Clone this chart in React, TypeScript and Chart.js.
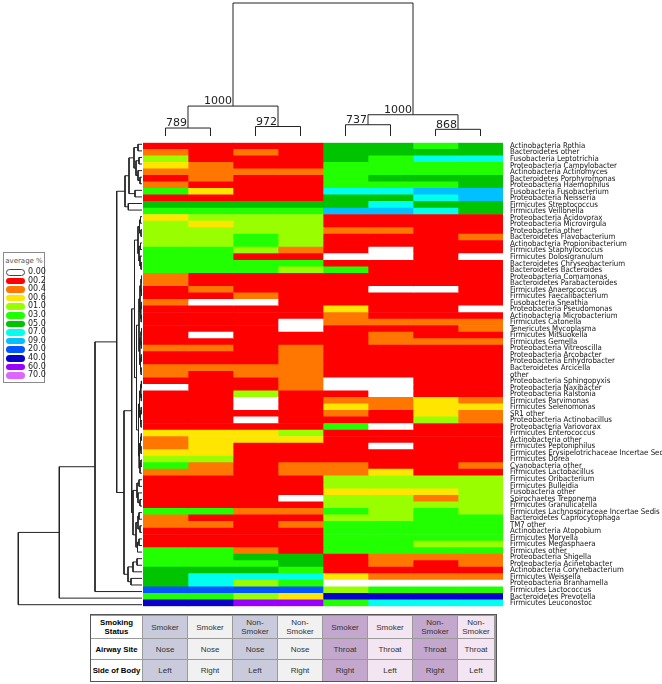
import React, { useEffect, useRef } from 'react';
import { Chart, registerables } from 'chart.js';

Chart.register(...registerables);

// ---------------- DATA ----------------
const taxa = [
  'Actinobacteria Rothia', 'Bacteroidetes other', 'Fusobacteria Leptotrichia', 'Proteobacteria Campylobacter',
  'Actinobacteria Actinomyces', 'Bacteroidetes Porphyromonas', 'Proteobacteria Haemophilus', 'Fusobacteria Fusobacterium',
  'Proteobacteria Neisseria', 'Firmicutes Streptococcus', 'Firmicutes Veillonella', 'Proteobacteria Acidovorax',
  'Proteobacteria Microvirgula', 'Proteobacteria other', 'Bacteroidetes Flavobacterium', 'Actinobacteria Propionibacterium',
  'Firmicutes Staphylococcus', 'Firmicutes Dolosigranulum', 'Bacteroidetes Chryseobacterium', 'Bacteroidetes Bacteroides',
  'Proteobacteria Comamonas', 'Bacteroidetes Parabacteroides', 'Firmicutes Anaerococcus', 'Firmicutes Faecalibacterium',
  'Fusobacteria Sneathia', 'Proteobacteria Pseudomonas', 'Actinobacteria Microbacterium', 'Firmicutes Catonella',
  'Tenericutes Mycoplasma', 'Firmicutes Mitsuokella', 'Firmicutes Gemella', 'Proteobacteria Vitreoscilla',
  'Proteobacteria Arcobacter', 'Proteobacteria Enhydrobacter', 'Bacteroidetes Arcicella', 'other',
  'Proteobacteria Sphingopyxis', 'Proteobacteria Naxibacter', 'Proteobacteria Ralstonia', 'Firmicutes Parvimonas',
  'Firmicutes Selenomonas', 'SR1 other', 'Proteobacteria Actinobacillus', 'Proteobacteria Variovorax',
  'Firmicutes Enterococcus', 'Actinobacteria other', 'Firmicutes Peptoniphilus', 'Firmicutes Erysipelotrichaceae Incertae Sedis',
  'Firmicutes Dorea', 'Cyanobacteria other', 'Firmicutes Lactobacillus', 'Firmicutes Oribacterium',
  'Firmicutes Bulleidia', 'Fusobacteria other', 'Spirochaetes Treponema', 'Firmicutes Granulicatella',
  'Firmicutes Lachnospiraceae Incertae Sedis', 'Bacteroidetes Capnocytophaga', 'TM7 other', 'Actinobacteria Atopobium',
  'Firmicutes Moryella', 'Firmicutes Megasphaera', 'Firmicutes other', 'Proteobacteria Shigella',
  'Proteobacteria Acinetobacter', 'Actinobacteria Corynebacterium', 'Firmicutes Weissella', 'Proteobacteria Branhamella',
  'Firmicutes Lactococcus', 'Bacteroidetes Prevotella', 'Firmicutes Leuconostoc',
];

const sampleGroups = [
  'Smoker Nose Left', 'Smoker Nose Right', 'Non-Smoker Nose Left', 'Non-Smoker Nose Right',
  'Smoker Throat Right', 'Smoker Throat Left', 'Non-Smoker Throat Right', 'Non-Smoker Throat Left',
];
const smokingStatus = ['Smoker', 'Smoker', 'Non-\nSmoker', 'Non-\nSmoker', 'Smoker', 'Smoker', 'Non-\nSmoker', 'Non-\nSmoker'];
const airwaySite = ['Nose', 'Nose', 'Nose', 'Nose', 'Throat', 'Throat', 'Throat', 'Throat'];
const sideOfBody = ['Left', 'Right', 'Left', 'Right', 'Right', 'Left', 'Right', 'Left'];
const tableRowTitles = ['Smoking\nStatus', 'Airway Site', 'Side of Body'];

const legendLevels = [0, 0.2, 0.4, 0.6, 1, 3, 5, 7, 9, 20, 40, 60, 70];
const legendLabels = ['0.00', '00.2', '00.4', '00.6', '01.0', '03.0', '05.0', '07.0', '09.0', '20.0', '40.0', '60.0', '70.0'];
const legendColors = ['#ffffff', '#ff0000', '#ff7700', '#ffe600', '#99ff00', '#22ff00', '#00c400', '#00ffee',
  '#00c0ff', '#0055ff', '#0a00cc', '#9900ff', '#dd66ff'];

// average % per taxon (rows) x sample group (columns)
const abundance: number[][] = [
  [0.2, 0.2, 0.2, 0.2, 5, 5, 3, 5],
  [0.4, 0.2, 0.4, 0.2, 5, 5, 5, 5],
  [1, 0.2, 0.2, 0.2, 5, 3, 7, 7],
  [0.6, 0.4, 0.2, 0.2, 3, 3, 3, 3],
  [0.4, 0.4, 0.4, 0.4, 3, 3, 3, 3],
  [0.2, 0.4, 0.2, 0.2, 3, 5, 5, 5],
  [0.4, 0.2, 0.2, 0.2, 3, 3, 3, 5],
  [3, 0.6, 0.2, 0.2, 7, 7, 9, 9],
  [0.2, 0.2, 0.2, 0.2, 5, 5, 7, 9],
  [5, 5, 5, 5, 5, 7, 5, 5],
  [3, 3, 3, 3, 9, 9, 7, 5],
  [0.6, 1, 1, 1, 0.2, 0.2, 0.2, 0.2],
  [1, 0.6, 1, 1, 0.2, 0.2, 0.2, 0.2],
  [1, 1, 1, 1, 0.4, 0.4, 0.2, 0.2],
  [1, 1, 3, 1, 0.2, 0.2, 0.2, 0.4],
  [1, 1, 3, 1, 0.2, 0.2, 0.2, 0.2],
  [3, 3, 1, 0.4, 0.2, 0, 0.2, 0.2],
  [3, 3, 0.2, 0.2, 0, 0, 0.2, 0],
  [3, 3, 3, 3, 0.2, 0.2, 0.2, 0.2],
  [3, 3, 3, 1, 3, 0.2, 0.2, 0.2],
  [0.4, 0.2, 0.2, 0.2, 0.2, 0.2, 0.2, 0.2],
  [0.4, 0.2, 0.2, 0.2, 0.2, 0.2, 0.2, 0.2],
  [0.2, 0.4, 0.2, 0.2, 0.2, 0, 0, 0.2],
  [0.2, 0.2, 0.4, 0.2, 0.2, 0.2, 0.2, 0.2],
  [0.4, 0, 0, 0.2, 0.2, 0.2, 0.2, 0.2],
  [0.2, 0.2, 0.2, 0.2, 0.6, 0.2, 0.2, 0],
  [0.2, 0.2, 0.2, 0.2, 0.4, 0.2, 0.2, 0.2],
  [0.2, 0.2, 0.2, 0, 0.4, 0.4, 0.4, 0.4],
  [0.2, 0.2, 0.2, 0, 0.2, 0.2, 0.2, 0.4],
  [0.2, 0, 0.2, 0.2, 0.2, 0.4, 0.2, 0.2],
  [0.2, 0.2, 0.2, 0.2, 0.2, 0.4, 0.4, 0.4],
  [0.4, 0.4, 0.2, 0.4, 0.2, 0.2, 0.2, 0.2],
  [0.2, 0.2, 0.2, 0.4, 0.2, 0.2, 0.2, 0.2],
  [0.2, 0.2, 0.2, 0.4, 0.2, 0.2, 0.2, 0.2],
  [0.4, 0.4, 0.4, 0.4, 0.2, 0.2, 0.2, 0.2],
  [0.4, 0.2, 0.4, 0.4, 0.2, 0.2, 0.2, 0.2],
  [0.2, 0.2, 0.2, 0.4, 0, 0, 0.2, 0.2],
  [0, 0.2, 0.2, 0.4, 0, 0, 0.2, 0.2],
  [0.2, 0.2, 1, 0.2, 0.2, 0, 0.2, 0.2],
  [0.2, 0.2, 0, 0.2, 0.4, 0.4, 0.6, 0.4],
  [0.2, 0.2, 0, 0.2, 0.6, 0.4, 0.6, 0.6],
  [0.2, 0.2, 0.2, 0.2, 0.4, 0.2, 0.6, 0.4],
  [0.2, 0.2, 0, 0.2, 0.2, 0.2, 1, 0.4],
  [0.2, 0.2, 0.2, 0.2, 3, 0, 0.2, 0.2],
  [0.6, 0.6, 0.6, 1, 0.2, 0.2, 0.2, 0.2],
  [0.4, 0.6, 0.6, 0.6, 0.2, 0.2, 0.2, 0.2],
  [0.4, 0.6, 0.2, 0.2, 0.2, 0, 0.2, 0.2],
  [0.6, 0.6, 0.2, 0.2, 0.2, 0.2, 0.2, 0.2],
  [1, 1, 0.2, 0.2, 0.2, 0.2, 0.2, 0.2],
  [3, 0.4, 0.2, 0.4, 0.4, 0.2, 0.2, 0.4],
  [0.4, 0.4, 0.2, 0.4, 0.4, 0.6, 0.2, 0.2],
  [0.2, 0.2, 0.2, 0.2, 1, 1, 1, 1],
  [0.2, 0.2, 0.2, 0.2, 1, 1, 1, 1],
  [0.2, 0.2, 0.2, 0.2, 0.6, 0.6, 0.6, 1],
  [0.2, 0.2, 0.2, 0, 1, 1, 0.4, 1],
  [0.2, 0.2, 0.2, 0.2, 1, 1, 1, 1],
  [3, 3, 0.4, 0.4, 3, 1, 3, 1],
  [0.4, 0.2, 0.2, 0.2, 1, 1, 3, 3],
  [0.4, 0.4, 0.2, 0.4, 3, 3, 3, 3],
  [0.2, 0.2, 0.2, 0.2, 3, 3, 3, 3],
  [0.2, 0.2, 0.2, 0.2, 3, 3, 3, 3],
  [0.2, 0.2, 0.2, 0.2, 3, 3, 1, 1],
  [3, 3, 0.4, 0.2, 3, 3, 3, 3],
  [3, 3, 5, 5, 0.2, 0.4, 0.4, 0.4],
  [3, 3, 3, 5, 0.2, 0.4, 0.2, 0.4],
  [5, 5, 5, 3, 0.2, 0.2, 0.2, 0.2],
  [5, 7, 7, 7, 0.6, 0.4, 0.4, 0.4],
  [5, 7, 1, 3, 0, 0, 0, 0],
  [20, 20, 20, 20, 1, 3, 3, 3],
  [3, 3, 1, 0.6, 40, 40, 40, 40],
  [40, 40, 60, 60, 3, 7, 7, 7],
];

// Dendrograms: [mergeHeight, child, child, bootstrapSupport?]; leaves are column / row indices
const columnTree: any = [133.3,
  [30, [8, 0, 1, 789], [9.5, 2, 3, 972], 1000],
  [21.3, [11.3, 4, 5, 737], [6.7, 6, 7, 868], 1000]];

const rowTree: any = [123.7,
  [82.7,
    [47,
      [25.3,
        [17,
          [13, [8, [4, 0, 1], [6, [3, 2, 3], [4, 4, [2, 5, 6]]]], [7, 7, 8]],
          [13.7, 9, 10]],
        [18,
          [10.3,
            [7.5,
              [4, [2.5, [1.5, 11, 12], [1, 13, 14]], [3, [1.5, 15, 16], [2, 17, [1, 18, 19]]]],
              [5.5,
                [3, [2, [1, [0.5, 20, 21], [0.5, 22, 23]], [1.2, [0.6, 24, 25], [0.8, 26, 27]]],
                  [2.2, [1, [0.5, 28, 29], [0.6, 30, 31]], [1.5, [0.7, 32, 33], [0.9, 34, 35]]]],
                [3.5, [2.5, [1.2, [0.6, 36, 37], [0.7, 38, 39]], [1.5, [0.8, 40, 41], [1, 42, 43]]],
                  [2.8, [1.5, [0.7, 44, 45], [1, 46, 47]], [2, [1, 48, 49], 50]]]]],
            [9, [5, [3, 51, 52], [4, 53, [2, 54, 55]]], [6, [4, [3, 56, 57], [2, 58, 59]], [4.5, [3, 60, 61], 62]]]],
          [14, [9, [5, 63, 64], 65], [11, 66, 67]]]],
      68],
    69],
  70];

// ---------------- HELPERS ----------------
function colorFor(v: number) {
  let idx = 0;
  for (let i = 0; i < legendLevels.length; i++) if (v >= legendLevels[i]) idx = i;
  return legendColors[idx];
}

type Seg = [number, number, number, number]; // pos1,h1,pos2,h2
function walkTree(t: any, segs: Seg[], nodes: { pos: number; h: number; s: number }[]): { pos: number; h: number } {
  if (typeof t === 'number') return { pos: t + 0.5, h: 0 };
  const [h, a, b, s] = t;
  const A = walkTree(a, segs, nodes);
  const B = walkTree(b, segs, nodes);
  segs.push([A.pos, A.h, A.pos, h]);
  segs.push([B.pos, B.h, B.pos, h]);
  segs.push([A.pos, h, B.pos, h]);
  const pos = (A.pos + B.pos) / 2;
  if (s) nodes.push({ pos, h, s });
  return { pos, h };
}

function segPoints(segs: Seg[], swap: boolean) {
  const pts: any[] = [];
  segs.forEach(([p1, h1, p2, h2]) => {
    if (swap) {
      pts.push({ x: h1, y: p1 }, { x: h2, y: p2 }, { x: h2, y: null });
    } else {
      pts.push({ x: p1, y: h1 }, { x: p2, y: h2 }, { x: p2, y: null });
    }
  });
  return pts;
}

const labelFont = "'Liberation Sans Narrow', 'DejaVu Sans Condensed', 'Liberation Sans', sans-serif";
const uiFont = "'DejaVu Sans', 'Liberation Sans', sans-serif";
const tableFont = "'Liberation Sans', Arial, sans-serif";

// ---------------- COMPONENT ----------------
export default function App() {
  const heatRef = useRef<HTMLCanvasElement>(null);
  const topRef = useRef<HTMLCanvasElement>(null);
  const leftRef = useRef<HTMLCanvasElement>(null);

  useEffect(() => {
    const charts: Chart[] = [];

    // Heatmap
    charts.push(new Chart(heatRef.current!, {
      type: 'bar',
      data: {
        labels: taxa,
        datasets: sampleGroups.map((g, c) => ({
          label: g,
          data: taxa.map(() => 1),
          backgroundColor: abundance.map((row) => colorFor(row[c])),
          borderWidth: 0,
          barPercentage: 1,
          categoryPercentage: 1,
        })),
      },
      options: {
        indexAxis: 'y',
        responsive: false,
        animation: false,
        devicePixelRatio: 1,
        layout: { padding: { top: 10, bottom: 10, left: 0, right: 0 } },
        plugins: { legend: { display: false }, tooltip: { enabled: false } },
        scales: {
          x: { type: 'linear', stacked: true, min: 0, max: 8, display: false },
          y: {
            type: 'category',
            stacked: true,
            position: 'right',
            offset: true,
            grid: { display: false, drawTicks: false },
            border: { display: false },
            ticks: { autoSkip: false, padding: 7, color: '#111', font: { family: labelFont, size: 7.8 } },
            afterFit: (s: any) => { s.width = 159; },
          },
        },
      } as any,
    }));

    // Column dendrogram
    const cSegs: Seg[] = [];
    const cNodes: { pos: number; h: number; s: number }[] = [];
    walkTree(columnTree, cSegs, cNodes);
    const bootstrapPlugin = {
      id: 'bootstrapLabels',
      afterDatasetsDraw(chart: any) {
        const { ctx, scales } = chart;
        ctx.save();
        ctx.font = `11px ${uiFont}`;
        ctx.fillStyle = '#222';
        ctx.textAlign = 'right';
        ctx.textBaseline = 'bottom';
        cNodes.forEach((n) => {
          ctx.fillText(String(n.s), scales.x.getPixelForValue(n.pos) - 1, scales.y.getPixelForValue(n.h) + 1);
        });
        ctx.restore();
      },
    };
    charts.push(new Chart(topRef.current!, {
      type: 'scatter',
      data: {
        datasets: [{
          data: segPoints(cSegs, false),
          showLine: true,
          borderColor: '#222',
          borderWidth: 1,
          pointRadius: 0,
          spanGaps: false,
          clip: false,
        } as any],
      },
      options: {
        responsive: false,
        animation: false,
        devicePixelRatio: 1,
        layout: { padding: { top: 3, bottom: 0, left: 0, right: 0 } },
        plugins: { legend: { display: false }, tooltip: { enabled: false } },
        scales: {
          x: { type: 'linear', min: 0, max: 8, display: false },
          y: { type: 'linear', min: 0, max: 133.3, display: false },
        },
      } as any,
      plugins: [bootstrapPlugin],
    }));

    // Row dendrogram
    const rSegs: Seg[] = [];
    walkTree(rowTree, rSegs, []);
    charts.push(new Chart(leftRef.current!, {
      type: 'scatter',
      data: {
        datasets: [{
          data: segPoints(rSegs, true),
          showLine: true,
          borderColor: '#222',
          borderWidth: 1,
          pointRadius: 0,
          spanGaps: false,
          clip: false,
        } as any],
      },
      options: {
        responsive: false,
        animation: false,
        devicePixelRatio: 1,
        layout: { padding: { top: 0, bottom: 0, left: 0, right: 1 } },
        plugins: { legend: { display: false }, tooltip: { enabled: false } },
        scales: {
          x: { type: 'linear', reverse: true, min: 0, max: 142, display: false },
          y: { type: 'linear', reverse: true, min: 0, max: 71, display: false },
        },
      } as any,
    }));

    return () => charts.forEach((c) => c.destroy());
  }, []);

  const colLeft = (i: number) => 143 + i * 45;
  const colWidth = (i: number) => (i === 7 ? 36 : 44);
  const cellColors = ['#c9cbdc', '#f1f1f1', '#c9cbdc', '#f1f1f1', '#c4a7cd', '#f3e5f2', '#c4a7cd', '#f3e5f2'];
  const tableRows = [smokingStatus, airwaySite, sideOfBody];
  const rowTop = [616, 639, 660];
  const rowH = [22, 20, 21];

  return (
    <div style={{ position: 'absolute', left: 0, top: 0, width: 662, height: 684, background: '#fff', overflow: 'hidden' }}>
      <canvas ref={topRef} width={360} height={136} style={{ position: 'absolute', left: 143, top: 0 }} />
      <canvas ref={leftRef} width={143} height={467} style={{ position: 'absolute', left: 0, top: 141 }} />
      <canvas ref={heatRef} width={519} height={487} style={{ position: 'absolute', left: 143, top: 131 }} />

      {/* colour legend */}
      <div style={{
        position: 'absolute', left: 3, top: 252, width: 42, height: 131, border: '1px solid #8a8a8a',
        background: '#fff', fontFamily: uiFont, boxSizing: 'border-box',
      }}>
        <div style={{ position: 'absolute', left: 0, width: 40, top: 4, textAlign: 'center', fontSize: 7, color: '#555' }}>average %</div>
        {legendLabels.map((lab, i) => (
          <div key={lab} style={{ position: 'absolute', left: 2, top: 15 + i * 8.6, height: 8, width: 38 }}>
            <div style={{
              position: 'absolute', left: 0, top: 1, width: 19, height: 6.5, borderRadius: 3.5,
              background: legendColors[i], boxSizing: 'border-box', border: i === 0 ? '1px solid #444' : 'none',
            }} />
            <div style={{ position: 'absolute', left: 22, top: -1, fontSize: 8, lineHeight: '9px', color: '#222' }}>{lab}</div>
          </div>
        ))}
      </div>

      {/* sample annotation table */}
      <div style={{ position: 'absolute', left: 90, top: 614, width: 407, height: 68, border: '1px solid #555', background: '#9a9a9a', boxSizing: 'border-box' }} />
      {tableRowTitles.map((t, r) => (
        <div key={t} style={{
          position: 'absolute', left: 91, top: rowTop[r], width: 51, height: rowH[r], background: '#fff',
          display: 'flex', alignItems: 'center', justifyContent: 'center', textAlign: 'center', whiteSpace: 'pre',
          fontFamily: tableFont, fontWeight: 'bold', fontSize: 7.8, lineHeight: '9px', color: '#000',
        }}>{t}</div>
      ))}
      {tableRows.map((vals, r) => vals.map((v, i) => (
        <div key={`${r}-${i}`} style={{
          position: 'absolute', left: colLeft(i), top: rowTop[r], width: colWidth(i), height: rowH[r], background: cellColors[i],
          display: 'flex', alignItems: 'center', justifyContent: 'center', textAlign: 'center', whiteSpace: 'pre',
          fontFamily: tableFont, fontSize: 8, lineHeight: '9px', color: '#333',
        }}>{v}</div>
      )))}
    </div>
  );
}
